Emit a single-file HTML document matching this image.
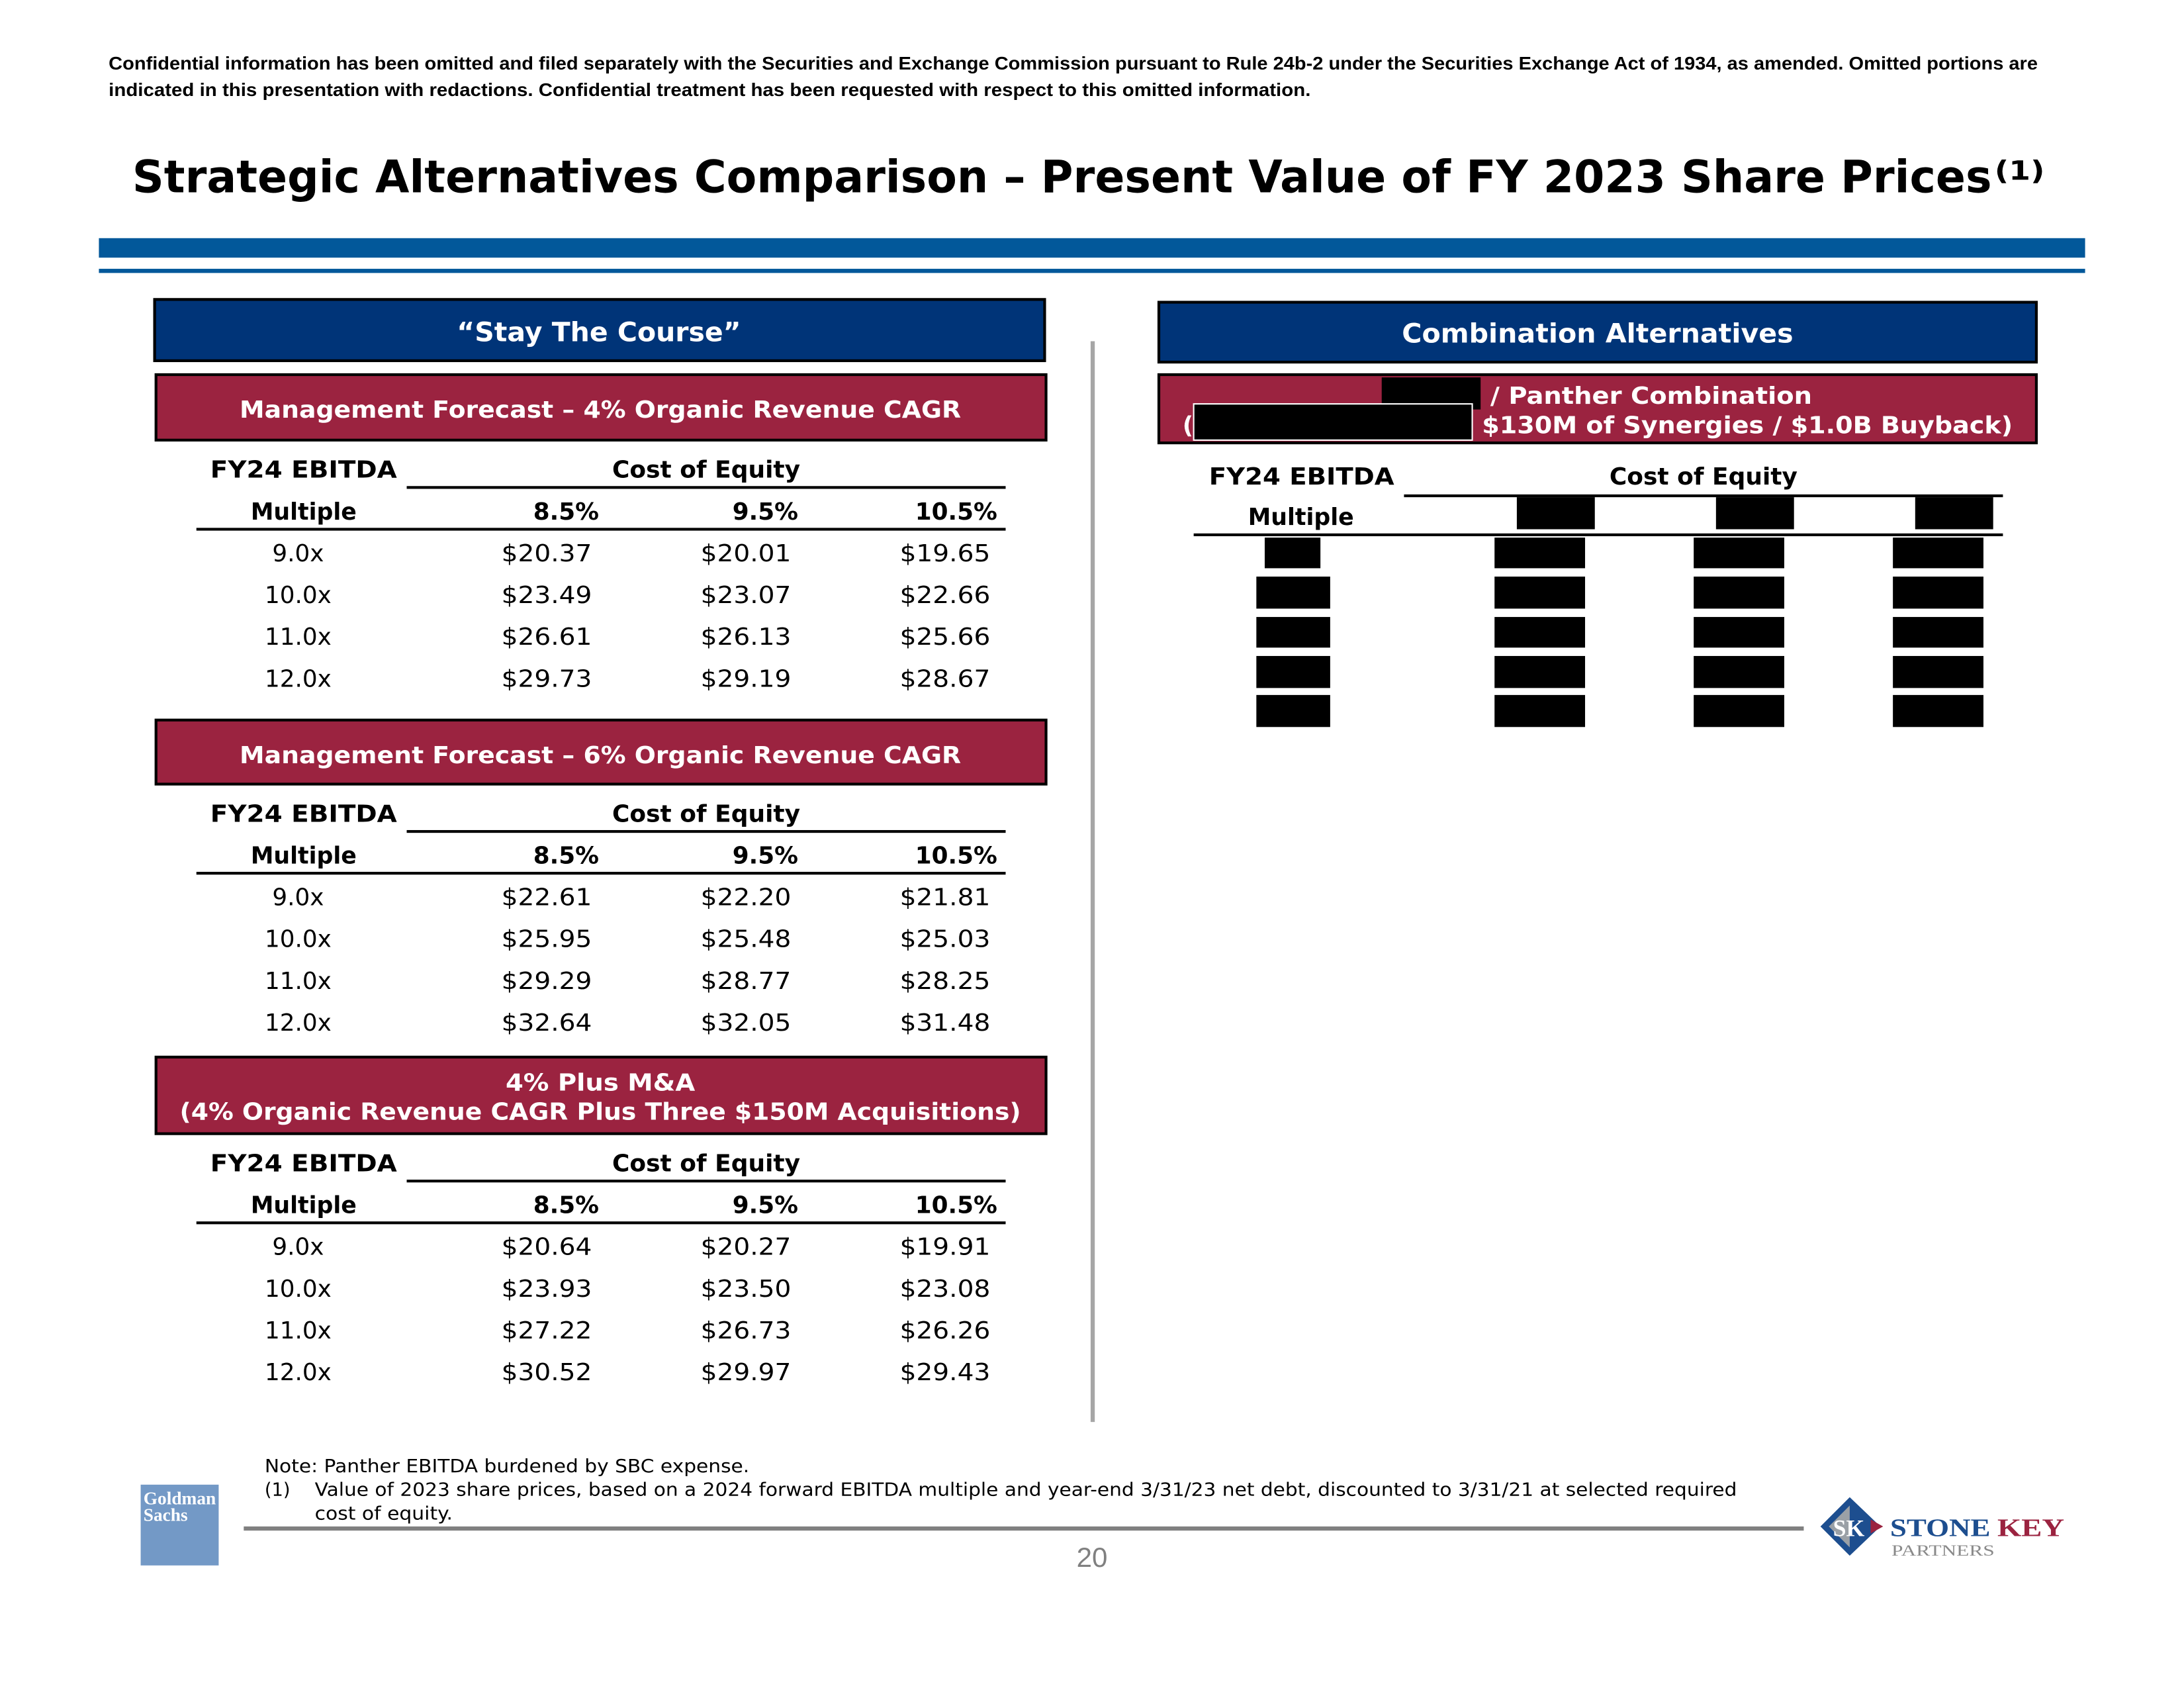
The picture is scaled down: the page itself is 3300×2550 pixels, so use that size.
<!DOCTYPE html>
<html><head><meta charset="utf-8"><style>
html,body{margin:0;padding:0;background:#fff;}
svg{display:block;}
text{font-family:"DejaVu Sans","Liberation Sans",sans-serif;}
text.cal{font-family:"Liberation Sans",sans-serif;}
text.serif{font-family:"Liberation Serif",serif;}
</style></head><body>
<svg id="pg" width="3300" height="2550" viewBox="0 0 1568 1212" preserveAspectRatio="none" xmlns="http://www.w3.org/2000/svg">
<g>
<text class="cal" x="78" y="50" font-size="13" font-weight="bold" textLength="1385" lengthAdjust="spacingAndGlyphs">Confidential information has been omitted and filed separately with the Securities and Exchange Commission pursuant to Rule 24b-2 under the Securities Exchange Act of 1934, as amended. Omitted portions are</text>
<text class="cal" x="78" y="69" font-size="13" font-weight="bold" textLength="863" lengthAdjust="spacingAndGlyphs">indicated in this presentation with redactions. Confidential treatment has been requested with respect to this omitted information.</text>
</g>
<text x="95" y="138" font-size="32" font-weight="bold" textLength="1335" lengthAdjust="spacingAndGlyphs">Strategic Alternatives Comparison – Present Value of FY 2023 Share Prices</text>
<text x="1432" y="129" font-size="19" font-weight="bold" textLength="36" lengthAdjust="spacingAndGlyphs">(1)</text>
<rect x="71" y="171" width="1426" height="14" fill="#02589A"/>
<rect x="71" y="193" width="1426" height="3" fill="#02589A"/>
<rect x="783" y="245" width="3" height="776" fill="#a6a6a6"/>

<g>
<rect x="111" y="215" width="639" height="44" fill="#003478" stroke="#000" stroke-width="2"/>
<text x="430" y="245" font-size="19" font-weight="bold" fill="#fff" text-anchor="middle" textLength="204" lengthAdjust="spacingAndGlyphs">“Stay The Course”</text>
</g>
<g>
<rect x="832" y="217" width="630" height="43" fill="#003478" stroke="#000" stroke-width="2"/>
<text x="1147" y="246" font-size="19" font-weight="bold" fill="#fff" text-anchor="middle" textLength="281" lengthAdjust="spacingAndGlyphs">Combination Alternatives</text>
</g>
<g id="left"></g>
<g>
<rect x="832" y="269" width="630" height="49" fill="#9B2340" stroke="#000" stroke-width="2"/>
<rect x="992" y="271" width="71" height="23" fill="#000"/>
<rect x="857" y="290" width="200" height="26" fill="#000" stroke="#fff" stroke-width="1"/>
<text x="1070" y="290" font-size="17" font-weight="bold" fill="#fff" textLength="231" lengthAdjust="spacingAndGlyphs">/ Panther Combination</text>
<text x="849" y="311" font-size="17" font-weight="bold" fill="#fff">(</text>
<text x="1064" y="311" font-size="17" font-weight="bold" fill="#fff" textLength="381" lengthAdjust="spacingAndGlyphs">$130M of Synergies / $1.0B Buyback)</text>
</g>
<g id="right">
<text x="868" y="348" font-size="17" font-weight="bold" textLength="133" lengthAdjust="spacingAndGlyphs">FY24 EBITDA</text>
<text x="1223" y="348" font-size="17" font-weight="bold" text-anchor="middle" textLength="135" lengthAdjust="spacingAndGlyphs">Cost of Equity</text>
<rect x="1008" y="355" width="430" height="2" fill="#000"/>
<text x="934" y="377" font-size="17" font-weight="bold" text-anchor="middle" textLength="76" lengthAdjust="spacingAndGlyphs">Multiple</text>
<rect x="857" y="383" width="581" height="2" fill="#000"/>
</g>
<g>
<text x="190" y="1057" font-size="13" textLength="348" lengthAdjust="spacingAndGlyphs">Note: Panther EBITDA burdened by SBC expense.</text>
<text x="190" y="1074" font-size="13">(1)</text>
<text x="226" y="1074" font-size="13" textLength="1021" lengthAdjust="spacingAndGlyphs">Value of 2023 share prices, based on a 2024 forward EBITDA multiple and year-end 3/31/23 net debt, discounted to 3/31/21 at selected required</text>
<text x="226" y="1091" font-size="13" textLength="99" lengthAdjust="spacingAndGlyphs">cost of equity.</text>
</g>
<rect x="175" y="1096" width="1120" height="3" fill="#808080"/>
<text class="cal" x="784" y="1125" font-size="20" fill="#808080" text-anchor="middle">20</text>
<g>
<rect x="101" y="1066" width="56" height="58" fill="#7399C6"/>
<text class="serif" x="103" y="1080" font-size="13" fill="#fff" font-weight="bold" textLength="52" lengthAdjust="spacingAndGlyphs">Goldman</text>
<text class="serif" x="103" y="1092" font-size="13" fill="#fff" font-weight="bold">Sachs</text>
</g>
<g>
<polygon points="1328,1075 1350,1096 1328,1117 1307,1096" fill="#1d4e8f"/>
<polygon points="1313,1096 1328,1081 1328,1111" fill="#9aa0a6"/>
<text class="serif" x="1316" y="1103" font-size="17" fill="#fff" font-weight="bold">SK</text>
<polygon points="1343,1091 1352,1096 1343,1101" fill="#9B2340"/>
<text class="serif" x="1357" y="1103" font-size="18" font-weight="bold" fill="#1d4e8f" textLength="72" lengthAdjust="spacingAndGlyphs">STONE</text>
<text class="serif" x="1434" y="1103" font-size="18" font-weight="bold" fill="#9B2340" textLength="48" lengthAdjust="spacingAndGlyphs">KEY</text>
<text class="serif" x="1358" y="1117" font-size="11" fill="#8a8a8a" textLength="74" lengthAdjust="spacingAndGlyphs">PARTNERS</text>
</g>
</svg>
<script>
const multiples = ["9.0x","10.0x","11.0x","12.0x"];
const costOfEquity = ["8.5%","9.5%","10.5%"];
const table1Values = [["$20.37","$20.01","$19.65"],["$23.49","$23.07","$22.66"],["$26.61","$26.13","$25.66"],["$29.73","$29.19","$28.67"]];
const table2Values = [["$22.61","$22.20","$21.81"],["$25.95","$25.48","$25.03"],["$29.29","$28.77","$28.25"],["$32.64","$32.05","$31.48"]];
const table3Values = [["$20.64","$20.27","$19.91"],["$23.93","$23.50","$23.08"],["$27.22","$26.73","$26.26"],["$30.52","$29.97","$29.43"]];
const NS="http://www.w3.org/2000/svg";
function mk(parent,tag,attrs,txt){const e=document.createElementNS(NS,tag);for(const k in attrs)e.setAttribute(k,attrs[k]);if(txt!==undefined)e.textContent=txt;parent.appendChild(e);return e;}
const left=document.getElementById('left');
const sections=[
 {top:269,h:47,lines:["Management Forecast – 4% Organic Revenue CAGR"],lw:[518],vals:table1Values,hb:343,name:'forecast-4pct'},
 {top:517,h:46,lines:["Management Forecast – 6% Organic Revenue CAGR"],lw:[518],vals:table2Values,hb:590,name:'forecast-6pct'},
 {top:759,h:55,lines:["4% Plus M&A","(4% Organic Revenue CAGR Plus Three $150M Acquisitions)"],lw:[136,604],vals:table3Values,hb:841,name:'plus-ma'}
];
const colLeft=[360,503,646], colRight=[430,573,716];
sections.forEach(s=>{
 const g=mk(left,'g',{});
 
 
 const hdr=mk(g,'g',{});
 
 
 mk(hdr,'rect',{x:112,y:s.top,width:639,height:s.h,fill:'#9B2340',stroke:'#000','stroke-width':2});
 if(s.lines.length===1){
  mk(hdr,'text',{x:431,y:s.top+31,'font-size':17,'font-weight':'bold',fill:'#fff','text-anchor':'middle',textLength:s.lw[0],lengthAdjust:'spacingAndGlyphs'},s.lines[0]);
 } else {
  mk(hdr,'text',{x:431,y:s.top+24,'font-size':17,'font-weight':'bold',fill:'#fff','text-anchor':'middle',textLength:s.lw[0],lengthAdjust:'spacingAndGlyphs'},s.lines[0]);
  mk(hdr,'text',{x:431,y:s.top+45,'font-size':17,'font-weight':'bold',fill:'#fff','text-anchor':'middle',textLength:s.lw[1],lengthAdjust:'spacingAndGlyphs'},s.lines[1]);
 }
 const hb=s.hb;
 mk(g,'text',{x:151,y:hb,'font-size':17,'font-weight':'bold',textLength:134,lengthAdjust:'spacingAndGlyphs'},'FY24 EBITDA');
 mk(g,'text',{x:507,y:hb,'font-size':17,'font-weight':'bold','text-anchor':'middle',textLength:135,lengthAdjust:'spacingAndGlyphs'},'Cost of Equity');
 mk(g,'rect',{x:292,y:hb+6,width:430,height:2,fill:'#000'});
 mk(g,'text',{x:218,y:hb+30,'font-size':17,'font-weight':'bold','text-anchor':'middle',textLength:76,lengthAdjust:'spacingAndGlyphs'},'Multiple');
 costOfEquity.forEach((c,i)=>{
  const t=mk(g,'text',{x:colRight[i],y:hb+30,'font-size':17,'font-weight':'bold','text-anchor':'end'},c);
  
  
 });
 mk(g,'rect',{x:141,y:hb+36,width:581,height:2,fill:'#000'});
 multiples.forEach((m,r)=>{
  const y=hb+60+r*30;
  const mt=mk(g,'text',{x:214,y:y,'font-size':17,'text-anchor':'middle'},m);
  
  
  s.vals[r].forEach((v,c)=>{
   const t=mk(g,'text',{x:colLeft[c],y:y,'font-size':17,textLength:65,lengthAdjust:'spacingAndGlyphs'},v);
   
   
  });
 });
});
const right=document.getElementById('right');
const redCols=[[1089,56],[1232,56],[1375,56]];
redCols.forEach(([x,w])=>{const b=mk(right,'rect',{x:x,y:357,width:w,height:23,fill:'#000'});});
const rowY=[[386,22],[414,23],[443,22],[471,23],[499,23]];
rowY.forEach(([y,h],r)=>{
 const c0 = r===0?[908,40]:[902,53];
 const b0=mk(right,'rect',{x:c0[0],y:y,width:c0[1],height:h,fill:'#000'});
 
 
 [1073,1216,1359].forEach(x=>{
  const b=mk(right,'rect',{x:x,y:y,width:65,height:h,fill:'#000'});
  
  
 });
});
</script>
</body></html>
